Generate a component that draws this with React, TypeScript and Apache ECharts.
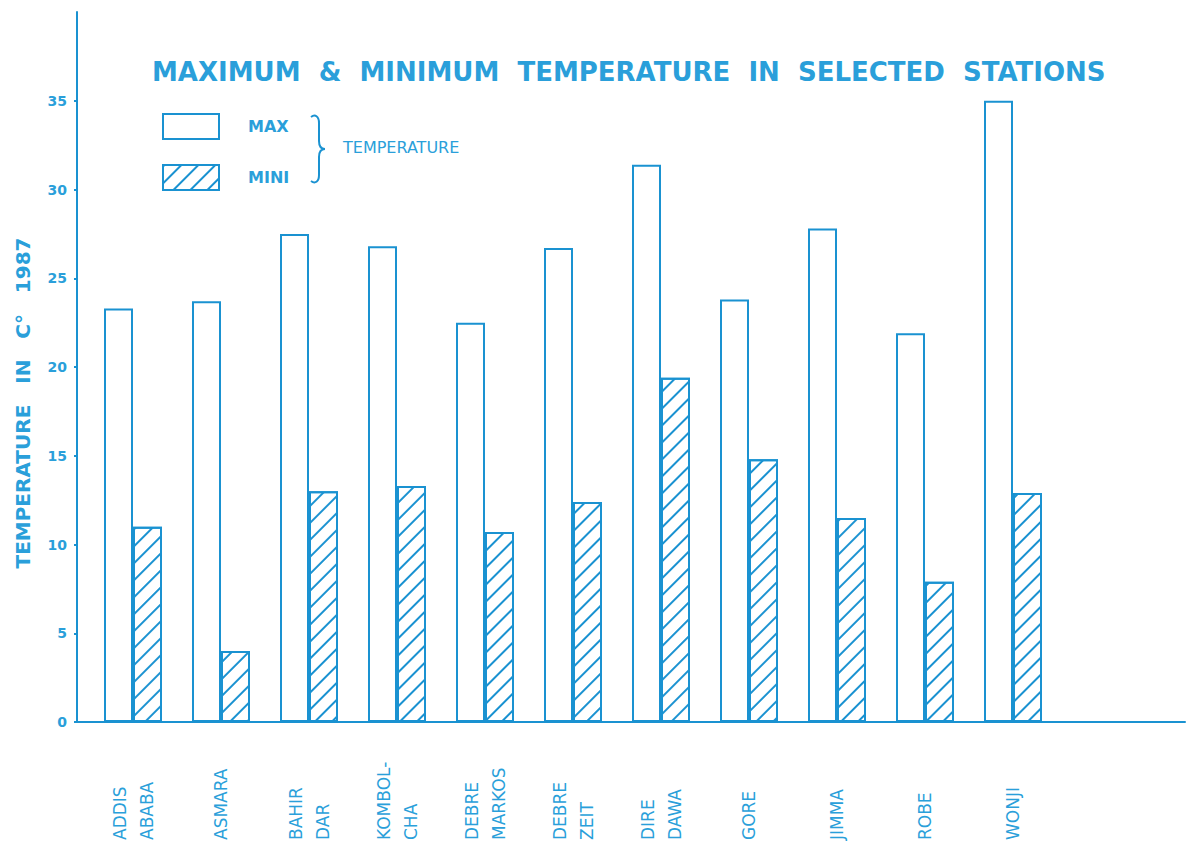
import React, { useEffect, useRef } from "react";
import * as echarts from "echarts";

const stations = [
  "ADDIS\nABABA",
  "ASMARA",
  "BAHIR\nDAR",
  "KOMBOL-\nCHA",
  "DEBRE\nMARKOS",
  "DEBRE\nZEIT",
  "DIRE\nDAWA",
  "GORE",
  "JIMMA",
  "ROBE",
  "WONJI",
];
const maxTemp = [23.3, 23.7, 27.5, 26.8, 22.5, 26.7, 31.4, 23.8, 27.8, 21.9, 35.0];
const minTemp = [11.0, 4.0, 13.0, 13.3, 10.7, 12.4, 19.4, 14.8, 11.5, 7.9, 12.9];

const BLUE = "#1a92d1";
const TEXT = "#2a9fda";
const FONT = "DejaVu Sans";

const G2 = "\u00a0\u00a0";
const G3 = "\u00a0\u00a0\u00a0";
const TITLE = ["MAXIMUM", "&", "MINIMUM", "TEMPERATURE", "IN", "SELECTED", "STATIONS"].join(G2);
const Y_NAME = ["TEMPERATURE", "IN", "C\u00b0", "1987"].join(G3);

let registered = false;
function registerBrace() {
  if (registered) return;
  registered = true;
  const d =
    "M0,2 C4,-1 8,1 8,8 L8,26 C8,31 10,34 14,34 C10,34 8,37 8,42 L8,60 C8,67 4,69 0,66";
  echarts.graphic.registerShape("brace", echarts.graphic.extendPath(d, {}));
}

export default function App() {
  const ref = useRef<HTMLDivElement>(null);
  useEffect(() => {
    if (!ref.current) return;
    registerBrace();
    const chart = echarts.init(ref.current, null, { renderer: "svg" });
    const hatch = {
      symbol: "rect",
      symbolSize: 1,
      color: BLUE,
      dashArrayX: [1, 0],
      dashArrayY: [2, 10],
      rotation: -Math.PI / 4,
    };
    chart.setOption({
      animation: false,
      backgroundColor: "#ffffff",
      title: {
        text: TITLE,
        left: 152,
        top: 59,
        padding: 0,
        textStyle: { fontFamily: FONT, fontSize: 26, fontWeight: "bold", color: TEXT },
      },
      legend: {
        left: 162,
        top: 113,
        orient: "vertical",
        padding: 0,
        itemWidth: 56,
        itemHeight: 25,
        itemGap: 24,
        icon: "rect",
        data: ["MAX", "MINI"],
        textStyle: {
          fontFamily: FONT,
          fontSize: 16,
          fontWeight: "bold",
          color: TEXT,
          padding: [0, 0, 0, 24],
        },
      },
      grid: [
        { left: 89, top: 12, width: 968, height: 710 },
        { left: 77, top: 12, width: 1108, height: 710 },
      ],
      xAxis: [
        {
          type: "category",
          gridIndex: 0,
          data: stations,
          axisLine: { show: false },
          axisTick: { show: false },
          axisLabel: {
            interval: 0,
            rotate: 90,
            align: "left",
            verticalAlign: "middle",
            margin: 118,
            fontFamily: FONT,
            fontSize: 17,
            lineHeight: 27,
            color: TEXT,
          },
        },
        {
          type: "value",
          gridIndex: 1,
          min: 0,
          max: 1,
          axisLine: { show: true, lineStyle: { color: BLUE, width: 2 } },
          axisTick: { show: false },
          axisLabel: { show: false },
          splitLine: { show: false },
        },
      ],
      yAxis: [
        {
          type: "value",
          gridIndex: 0,
          min: 0,
          max: 40,
          interval: 5,
          offset: 12,
          axisLine: { show: true, lineStyle: { color: BLUE, width: 2 } },
          axisTick: { show: true, length: 3, lineStyle: { color: BLUE, width: 2 } },
          axisLabel: {
            showMaxLabel: false,
            margin: 10,
            fontFamily: FONT,
            fontSize: 14,
            fontWeight: "bold",
            color: TEXT,
          },
          splitLine: { show: false },
        },
        {
          type: "value",
          gridIndex: 1,
          min: 0,
          max: 1,
          show: false,
        },
      ],
      series: [
        {
          name: "MAX",
          type: "bar",
          xAxisIndex: 0,
          yAxisIndex: 0,
          data: maxTemp,
          barWidth: 29,
          barGap: "0%",
          itemStyle: { color: "#ffffff", borderColor: BLUE, borderWidth: 2 },
        },
        {
          name: "MINI",
          type: "bar",
          xAxisIndex: 0,
          yAxisIndex: 0,
          data: minTemp,
          barWidth: 29,
          barGap: "0%",
          itemStyle: { color: "#ffffff", borderColor: BLUE, borderWidth: 2, decal: hatch },
        },
      ],
      graphic: [
        {
          type: "brace",
          x: 311,
          y: 115,
          shape: {},
          style: { stroke: BLUE, fill: "none", lineWidth: 2 },
        },
        {
          type: "text",
          x: 343,
          y: 147,
          style: {
            text: "TEMPERATURE",
            fontFamily: FONT,
            fontSize: 16,
            fill: TEXT,
            verticalAlign: "middle",
          },
        },
        {
          type: "text",
          x: 23,
          y: 403,
          rotation: Math.PI / 2,
          style: {
            text: Y_NAME,
            fontFamily: FONT,
            fontSize: 20,
            fontWeight: "bold",
            fill: TEXT,
            align: "center",
            verticalAlign: "middle",
          },
        },
      ],
    });
    return () => chart.dispose();
  }, []);
  return (
    <div
      ref={ref}
      style={{ position: "absolute", left: 0, top: 0, width: 1190, height: 844 }}
    />
  );
}
